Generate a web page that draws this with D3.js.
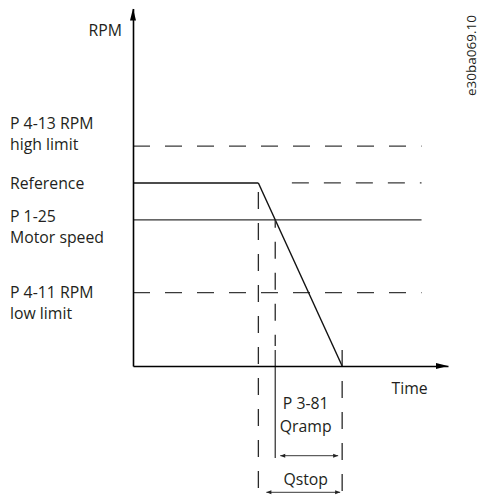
<!DOCTYPE html>
<html>
<head>
<meta charset="utf-8">
<script src="https://cdn.jsdelivr.net/npm/d3@7"></script>
<style>
  html, body { margin: 0; padding: 0; background: #ffffff; }
  svg { display: block; }
  text { font-family: "Open Sans", "DejaVu Sans", sans-serif; fill: #231f20; }
</style>
</head>
<body>
<svg id="chart" width="479" height="498"></svg>
<script>
// Speed levels (RPM, arbitrary units) and their labels
const levelNames  = ["high", "reference", "motor", "low"];
const levelLabels = [["P 4-13 RPM", "high limit"], ["Reference"], ["P 1-25", "Motor speed"], ["P 4-11 RPM", "low limit"]];
const levelValues = [61.5, 51.2, 40.9, 20.5];

// Quick-stop ramp timing (arbitrary time units)
const rampStart = 3.98;   // quick stop issued, ramp begins at reference speed
const rampStop  = 6.64;   // motor reaches zero speed
const levelEnd  = 9.16;   // where the level lines end

const axisLabels = ["RPM", "Time"];
const spanLabels = { qramp: ["P 3-81", "Qramp"], qstop: ["Qstop"] };
const figureCode = "e30ba069.10";

const svg = d3.select("#chart");
const W = 479, H = 498;

const x = d3.scaleLinear().domain([0, 10]).range([133, 448]);
const y = d3.scaleLinear().domain([0, 100]).range([366, 8.5]);

const val = name => levelValues[levelNames.indexOf(name)];
const refV = val("reference"), motorV = val("motor");
// time at which the ramp crosses the motor-speed level
const motorCross = rampStart + (refV - motorV) / refV * (rampStop - rampStart);

const DASH = "17 15";
const line = d3.line().x(d => x(d[0])).y(d => y(d[1]));

// ---- horizontal level lines ----
const g = svg.append("g");
["high", "low"].forEach(n => {
  g.append("path")
    .attr("d", line([[0, val(n)], [levelEnd, val(n)]]))
    .attr("stroke", "#3a3a3a").attr("stroke-width", 1.3)
    .attr("stroke-dasharray", DASH).attr("fill", "none");
});
// reference: solid until the ramp starts, dashed afterwards
g.append("path")
  .attr("d", line([[0, refV], [rampStart, refV]]))
  .attr("stroke", "#111").attr("stroke-width", 1.4).attr("fill", "none");
g.append("path")
  .attr("d", line([[rampStart, refV], [levelEnd, refV]]))
  .attr("stroke", "#3a3a3a").attr("stroke-width", 1.3)
  .attr("stroke-dasharray", "0 33.5 17 15 17 15 17 15 17 15 17 15")
  .attr("fill", "none");
// motor speed (solid)
g.append("path")
  .attr("d", line([[0, motorV], [levelEnd, motorV]]))
  .attr("stroke", "#333").attr("stroke-width", 1.2).attr("fill", "none");

// ---- ramp ----
g.append("path")
  .attr("d", line([[rampStart, refV], [rampStop, 0]]))
  .attr("stroke", "#111").attr("stroke-width", 1.4).attr("fill", "none");

// ---- vertical guides ----
const yBottom = y.invert(H);
const vline = (t, v0, v1, dash, offset, w) => g.append("path")
  .attr("d", line([[t, v0], [t, v1]]))
  .attr("stroke", "#2a2a2a").attr("stroke-width", w || 1.3)
  .attr("stroke-dasharray", dash).attr("stroke-dashoffset", offset || 0)
  .attr("fill", "none");
vline(rampStart, refV, yBottom, "17 14", 22);
vline(motorCross, motorV, y.invert(346), "17 14", 9);
vline(motorCross, y.invert(350), y.invert(458), null, 0, 1.2);
vline(rampStop, y.invert(350), yBottom, "17 14", 0);

// ---- axes ----
const axG = svg.append("g");
axG.append("g").attr("transform", `translate(${x(0)},0)`)
  .call(d3.axisLeft(y).tickValues([]).tickSizeOuter(0))
  .select(".domain").attr("stroke", "#000").attr("stroke-width", 1.6);
axG.append("g").attr("transform", `translate(0,${y(0)})`)
  .call(d3.axisBottom(x).tickValues([]).tickSizeOuter(0))
  .select(".domain").attr("stroke", "#000").attr("stroke-width", 1.6);
// arrowheads
axG.append("path")
  .attr("d", `M${x(0)},${y(100)} L${x(0) - 3},${y(100) + 12} L${x(0) + 3},${y(100) + 12} Z`)
  .attr("fill", "#000");
axG.append("path")
  .attr("d", `M${x(10)},${y(0)} L${x(10) - 12},${y(0) - 3} L${x(10) - 12},${y(0) + 3} Z`)
  .attr("fill", "#000");

// ---- double-headed span arrows ----
function spanArrow(t0, t1, yy, pad0, pad1) {
  const a = x(t0) + pad0, b = x(t1) - pad1;
  g.append("line").attr("x1", a).attr("x2", b).attr("y1", yy).attr("y2", yy)
    .attr("stroke", "#222").attr("stroke-width", 0.9);
  g.append("path").attr("d", `M${a},${yy} l5,-2 l0,4 Z M${b},${yy} l-5,-2 l0,4 Z`)
    .attr("fill", "#222");
}
spanArrow(motorCross, rampStop, 455.7, 5, 4);
spanArrow(rampStart, rampStop, 492.3, 8, 2);

// ---- text ----
const FS = 15.8;
const labelDy = [-16.7, 6, 2, 5];
levelLabels.forEach((lines, i) => {
  const t = svg.append("text").attr("x", 10).attr("y", y(levelValues[i]) + labelDy[i])
    .attr("font-size", FS);
  lines.forEach((s, j) => t.append("tspan").attr("x", 10).attr("dy", j ? 21 : 0).text(s));
});
svg.append("text").attr("x", x(0) - 11).attr("y", 36).attr("text-anchor", "end")
  .attr("font-size", FS).text(axisLabels[0]);
svg.append("text").attr("x", 391.5).attr("y", 394).attr("font-size", FS).text(axisLabels[1]);

const cx = (x(motorCross) + x(rampStop)) / 2 - 3;
const tq = svg.append("text").attr("x", cx).attr("y", 409).attr("text-anchor", "middle").attr("font-size", FS);
spanLabels.qramp.forEach((s, j) => tq.append("tspan").attr("x", cx).attr("dy", j ? 22.7 : 0).text(s));
svg.append("text").attr("x", cx).attr("y", 485).attr("text-anchor", "middle")
  .attr("font-size", FS).text(spanLabels.qstop[0]);

svg.append("text").attr("transform", "translate(475.5,96) rotate(-90)")
  .attr("font-size", 13.5).text(figureCode);
</script>
</body>
</html>
